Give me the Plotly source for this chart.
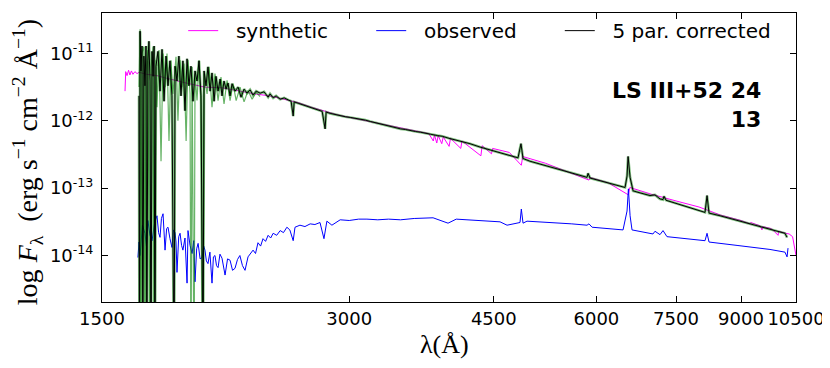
import numpy as np
import plotly.graph_objects as go

# synthetic model spectrum (magenta): wavelength [A], log10 flux
synth_wave = [1600, 1603, 1609, 1616, 1622, 1629, 1636, 1645, 1655, 1664, 1700, 1750, 1800, 1850,
              1900, 1950, 2000, 2100, 2200, 2300, 2400, 2500, 2600, 2700, 2800, 2900, 3000, 3200,
              3400, 3600, 3750, 3798, 3810, 3835, 3850, 3889, 3905, 3970, 3985, 4102, 4115, 4340,
              4355, 4471, 4485, 4700, 4861, 4880, 5200, 5876, 5890, 6200, 6563, 6590, 7000, 7500,
              8000, 8500, 9000, 9231, 9250, 9500, 9545, 9560, 9800, 9986, 10000, 10200, 10300,
              10400, 10450, 10500]
synth_logf = [-11.56, -11.27, -11.33, -11.25, -11.32, -11.26, -11.31, -11.27, -11.30, -11.28, -11.31,
              -11.33, -11.37, -11.40, -11.44, -11.47, -11.50, -11.51, -11.56, -11.60, -11.63, -11.68,
              -11.73, -11.80, -11.86, -11.91, -11.95, -12.02, -12.09, -12.15, -12.19, -12.30, -12.21,
              -12.33, -12.22, -12.34, -12.24, -12.38, -12.26, -12.41, -12.30, -12.52, -12.37, -12.49,
              -12.41, -12.47, -12.66, -12.53, -12.63, -12.88, -12.84, -12.92, -13.10, -12.99, -13.09,
              -13.19, -13.28, -13.40, -13.48, -13.53, -13.51, -13.56, -13.62, -13.57, -13.60, -13.70,
              -13.64, -13.67, -13.68, -13.72, -13.86, -14.00]

# observed spectrum (blue)
obs_wave = [1659, 1664, 1669, 1680, 1692, 1699, 1706, 1716, 1726, 1738, 1750, 1758, 1765, 1772,
            1780, 1785, 1790, 1798, 1805, 1815, 1825, 1833, 1841, 1846, 1851, 1860, 1867, 1875,
            1882, 1893, 1904, 1909, 1920, 1931, 1940, 1947, 1956, 1964, 1975, 1986, 1995, 2002,
            2010, 2019, 2030, 2042, 2050, 2059, 2068, 2077, 2088, 2100, 2110, 2118, 2133, 2148,
            2163, 2178, 2193, 2208, 2224, 2240, 2259, 2275, 2291, 2307, 2323, 2340, 2356, 2373,
            2390, 2407, 2424, 2448, 2472, 2495, 2519, 2540, 2564, 2577, 2613, 2650, 2689, 2725,
            2764, 2795, 2818, 2858, 2925, 3000, 3080, 3153, 3250, 3350, 3464, 3600, 3795, 3958,
            4050, 4174, 4350, 4579, 4670, 4843, 4861, 4884, 4939, 5313, 5600, 5844, 5876, 5928,
            6200, 6465, 6538, 6563, 6594, 6630, 7031, 7071, 7171, 7232, 7313, 7736, 8136, 8182,
            8228, 8900, 9300, 9761, 10180, 10240, 10268]
obs_logf = [-14.03, -13.80, -14.00, -13.55, -13.67, -13.86, -13.48, -13.70, -13.78, -13.52, -13.41,
            -13.66, -13.73, -13.45, -13.38, -13.70, -13.92, -13.60, -13.58, -13.75, -13.88, -13.62,
            -13.66, -13.80, -14.25, -13.72, -13.67, -13.85, -13.92, -13.74, -14.41, -13.63, -13.85,
            -13.97, -13.78, -14.39, -13.90, -13.82, -14.05, -14.03, -13.86, -13.92, -14.08, -14.12,
            -13.95, -14.41, -14.02, -14.00, -14.15, -14.18, -13.98, -14.04, -14.20, -14.29, -14.05,
            -14.07, -14.22, -14.19, -14.06, -14.00, -14.15, -14.22, -14.02, -13.97, -13.92, -13.97,
            -13.81, -13.86, -13.75, -13.79, -13.70, -13.74, -13.67, -13.70, -13.63, -13.66, -13.58,
            -13.62, -13.78, -13.58, -13.55, -13.57, -13.53, -13.54, -13.51, -13.75, -13.49, -13.55,
            -13.47, -13.48, -13.46, -13.46, -13.47, -13.46, -13.47, -13.45, -13.44, -13.52, -13.46,
            -13.47, -13.48, -13.50, -13.55, -13.51, -13.31, -13.52, -13.49, -13.51, -13.53, -13.55,
            -13.53, -13.58, -13.60, -13.62, -13.34, -13.01, -13.41, -13.62, -13.68, -13.64, -13.69,
            -13.63, -13.72, -13.75, -13.78, -13.67, -13.80, -13.85, -13.88, -13.91, -13.95, -14.02,
            -13.89]

# 5 par. corrected spectrum (black)
corr_wave = [1664, 1666, 1669, 1673, 1678, 1682, 1687, 1692, 1697, 1701, 1706, 1711, 1716, 1721,
             1726, 1731, 1736, 1740, 1745, 1755, 1765, 1775, 1785, 1795, 1805, 1815, 1825, 1836,
             1841, 1851, 1861, 1872, 1882, 1893, 1904, 1914, 1925, 1936, 1947, 1958, 1969, 1980,
             1991, 1997, 2008, 2019, 2031, 2042, 2054, 2065, 2077, 2089, 2100, 2112, 2124, 2136,
             2148, 2160, 2178, 2197, 2215, 2234, 2253, 2272, 2291, 2311, 2337, 2363, 2390, 2403,
             2424, 2444, 2472, 2500, 2528, 2549, 2564, 2571, 2600, 2629, 2659, 2689, 2719, 2750,
             2781, 2804, 2812, 2844, 2884, 2925, 2967, 3009, 3052, 3095, 3139, 3183, 3228, 3274,
             3321, 3368, 3416, 3464, 3513, 3563, 3614, 3665, 3717, 3770, 3845, 3894, 3968, 4093,
             4209, 4329, 4452, 4579, 4709, 4816, 4856, 4884, 4980, 5122, 5269, 5419, 5573, 5731,
             5844, 5861, 5894, 6062, 6234, 6411, 6502, 6538, 6557, 6594, 6649, 6780, 6973, 7071,
             7171, 7232, 7252, 7293, 7480, 7693, 7911, 8136, 8182, 8228, 8486, 8727, 8975, 9231,
             9490, 9761, 10038, 10180, 10240]
corr_logf = [-11.63, -16, -10.67, -11.26, -10.89, -16, -11.04, -11.48, -10.89, -16, -11.11, -10.82,
             -11.41, -16, -10.97, -11.34, -10.89, -16, -11.19, -10.97, -11.56, -10.94, -11.71, -11.04,
             -11.48, -11.11, -11.63, -16, -11.19, -11.41, -11.04, -11.63, -11.11, -11.85, -11.08,
             -11.48, -11.19, -11.71, -11.26, -11.41, -11.11, -11.63, -16, -11.26, -11.48, -11.20,
             -11.56, -11.29, -11.71, -11.34, -11.56, -11.38, -11.63, -11.41, -11.53, -11.44, -11.63,
             -11.45, -11.56, -11.50, -11.65, -11.53, -11.59, -11.54, -11.62, -11.56, -11.59, -11.57,
             -11.65, -11.60, -11.66, -11.63, -11.68, -11.66, -11.69, -11.71, -11.93, -11.72, -11.74,
             -11.76, -11.78, -11.80, -11.82, -11.84, -11.86, -12.12, -11.87, -11.89, -11.91, -11.92,
             -11.94, -11.95, -11.96, -11.97, -11.99, -12.01, -12.03, -12.05, -12.07, -12.09, -12.10,
             -12.12, -12.13, -12.15, -12.16, -12.17, -12.19, -12.20, -12.22, -12.23, -12.26, -12.30,
             -12.34, -12.39, -12.43, -12.47, -12.52, -12.55, -12.34, -12.56, -12.60, -12.64, -12.68,
             -12.73, -12.77, -12.81, -12.84, -12.78, -12.85, -12.89, -12.93, -12.96, -12.99, -12.82,
             -12.53, -12.84, -13.04, -13.07, -13.11, -13.10, -13.16, -13.17, -13.12, -13.18, -13.22,
             -13.27, -13.31, -13.36, -13.11, -13.37, -13.41, -13.45, -13.49, -13.53, -13.57, -13.61,
             -13.64, -13.67, -13.73]

# green overlay in the UV
green_wave = [1664, 1669, 1673, 1678, 1687, 1692, 1697, 1706, 1716, 1721, 1731, 1736, 1745, 1750,
              1760, 1770, 1780, 1790, 1800, 1810, 1820, 1830, 1846, 1856, 1867, 1877, 1888, 1899,
              1909, 1920, 1925, 1931, 1942, 1947, 1958, 1969, 1980, 1991, 1997, 2014, 2025, 2042,
              2059, 2077, 2094, 2112, 2130, 2148, 2166, 2185, 2209, 2234, 2259, 2285, 2311, 2337]
green_logf = [-11.50, -10.64, -16, -11.00, -10.90, -16, -11.30, -10.95, -16, -11.20, -10.90, -16,
              -11.10, -11.80, -10.95, -12.60, -11.00, -11.50, -11.00, -12.30, -11.10, -11.60, -11.05,
              -12.00, -11.10, -11.50, -11.15, -12.30, -11.10, -11.60, -16, -11.20, -16, -11.30,
              -11.70, -11.10, -11.75, -16, -11.30, -11.60, -11.20, -11.80, -11.30, -11.70, -11.35,
              -11.75, -11.40, -11.70, -11.45, -11.70, -11.50, -11.72, -11.55, -11.68, -11.58, -11.64]

x_ticks = [1500, 3000, 4500, 6000, 7500, 9000, 10500]
y_ticks = [1e-14, 1e-13, 1e-12, 1e-11]
y_ticktext = ['10<sup>-14</sup>', '10<sup>-13</sup>', '10<sup>-12</sup>', '10<sup>-11</sup>']

# spacing inside legend entries, like the matplotlib layout
lead = '&nbsp;' * 2
pad = '&nbsp;' * 6

fig = go.Figure()
fig.add_trace(go.Scatter(x=synth_wave, y=10 ** np.array(synth_logf), mode='lines',
                         name=lead + 'synthetic' + pad, line=dict(color='#ff00ff', width=1)))
fig.add_trace(go.Scatter(x=obs_wave, y=10 ** np.array(obs_logf), mode='lines',
                         name=lead + 'observed' + pad, line=dict(color='#0000ff', width=1)))
fig.add_trace(go.Scatter(x=green_wave, y=10 ** np.array(green_logf), mode='lines', showlegend=False,
                         line=dict(color='rgba(0,128,0,0.6)', width=1.2)))
fig.add_trace(go.Scatter(x=corr_wave, y=10 ** np.array(corr_logf), mode='lines', showlegend=False,
                         line=dict(color='rgba(0,128,0,0.5)', width=2.6)))
fig.add_trace(go.Scatter(x=corr_wave, y=10 ** np.array(corr_logf), mode='lines',
                         name=lead + '5 par. corrected', line=dict(color='black', width=1)))

axis_style = dict(showgrid=False, zeroline=False, showline=True, linecolor='black', linewidth=1,
                  mirror='allticks', ticks='inside', ticklen=6, tickcolor='black',
                  tickfont=dict(family='DejaVu Sans', size=18, color='black'))
fig.update_xaxes(type='log', range=[np.log10(1500), np.log10(10500)], tickvals=x_ticks,
                 ticktext=[str(v) for v in x_ticks], **axis_style)
fig.update_yaxes(type='log', range=[-14.69, -10.40], tickvals=y_ticks, ticktext=y_ticktext,
                 ticklabelstandoff=4, **axis_style)

fig.add_annotation(text='log <i>F</i><sub>λ</sub>  (erg s<sup>−1</sup> cm<sup>−2</sup> Å<sup>−1</sup>)',
                   xref='paper', yref='paper', x=-0.107, y=0.483, textangle=-90, showarrow=False,
                   xanchor='center', yanchor='middle',
                   font=dict(family='Liberation Serif', size=28, color='black'))
fig.add_annotation(text='λ(Å)', xref='paper', yref='paper', x=0.493, y=-0.148, showarrow=False,
                   xanchor='center', yanchor='middle',
                   font=dict(family='Liberation Serif', size=26, color='black'))
fig.add_annotation(text='<b>LS III+52 24</b><br><b>13</b>', xref='paper', yref='paper', x=0.952, y=0.68,
                   xanchor='right', yanchor='middle', align='right', showarrow=False,
                   font=dict(family='DejaVu Sans', size=22, color='black'))

# the page body adds an 8px offset, so the figure is 8px smaller than the window
fig.update_layout(width=822, height=360, plot_bgcolor='white', paper_bgcolor='white',
                  margin=dict(l=94, r=34, t=4, b=66),
                  legend=dict(orientation='h', x=0.117, y=1.003, xanchor='left', yanchor='top',
                              bgcolor='rgba(0,0,0,0)',
                              font=dict(family='DejaVu Sans', size=20, color='black')))

fig.write_html("out.html")
